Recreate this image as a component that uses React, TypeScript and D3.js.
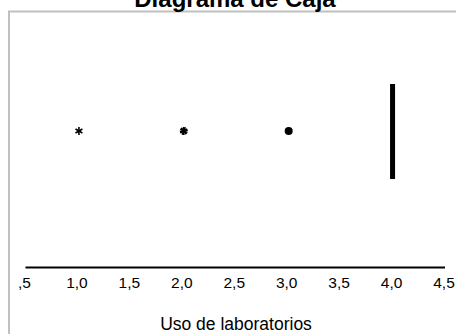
import React, { useEffect, useRef } from "react";
import * as d3 from "d3";

const W = 456;
const H = 334;

const titleText = "Diagrama de Caja";
const axisLabel = "Uso de laboratorios";
const tickValues = [0.5, 1.0, 1.5, 2.0, 2.5, 3.0, 3.5, 4.0, 4.5];
const tickLabels = [",5", "1,0", "1,5", "2,0", "2,5", "3,0", "3,5", "4,0", "4,5"];
// extreme values (asterisks), number overlapping at each
const outlierValues = [1, 2, 3];
const outlierCounts = [1, 2, 3];
// box: min, q1, median, q3, max (all collapse at 4)
const boxStats = [4, 4, 4, 4, 4];

export default function App() {
  const ref = useRef<SVGSVGElement>(null);
  useEffect(() => {
    const svg = d3.select(ref.current);
    svg.selectAll("*").remove();
    const x = d3.scaleLinear().domain([0.5, 4.5]).range([25.5, 445]);
    const yMid = 131;
    const font = "'Liberation Sans', Arial, sans-serif";

    // frame
    svg.append("rect").attr("x", 9).attr("y", 11.5).attr("width", 480).attr("height", 400)
      .attr("fill", "none").attr("stroke", "#c0c0c0").attr("stroke-width", 2);

    // title
    svg.append("text").attr("x", 235).attr("y", 7).attr("text-anchor", "middle")
      .attr("font-family", font).attr("font-weight", "bold").attr("font-size", 24)
      .attr("fill", "#000").text(titleText);

    // axis line
    svg.append("line").attr("x1", x(0.5)).attr("x2", x(4.5)).attr("y1", 267.5).attr("y2", 267.5)
      .attr("stroke", "#000").attr("stroke-width", 2);

    // tick labels
    svg.selectAll("text.tick").data(tickValues).enter().append("text")
      .attr("class", "tick")
      .attr("x", (d) => x(d) - 1)
      .attr("y", 288)
      .attr("text-anchor", "middle")
      .attr("font-family", font).attr("font-size", 15.5).attr("fill", "#000")
      .text((d, i) => tickLabels[i]);

    // axis label
    svg.append("text").attr("x", 236).attr("y", 330).attr("text-anchor", "middle")
      .attr("font-family", font).attr("font-size", 17.5).attr("fill", "#000").text(axisLabel);

    // outliers (asterisks)
    outlierValues.forEach((v, i) => {
      const cx = x(v) + 1;
      const g = svg.append("g").attr("transform", `translate(${cx},${yMid})`);
      const n = outlierCounts[i];
      const r = 4;
      if (n >= 3) {
        g.append("circle").attr("r", 4).attr("fill", "#000");
        return;
      }
      for (let k = 0; k < n; k++) {
        const off = (k * Math.PI) / 8;
        [0, Math.PI / 3, (2 * Math.PI) / 3].forEach((a) => {
          const ang = a + off + Math.PI / 2;
          g.append("line")
            .attr("x1", -r * Math.cos(ang)).attr("y1", -r * Math.sin(ang))
            .attr("x2", r * Math.cos(ang)).attr("y2", r * Math.sin(ang))
            .attr("stroke", "#000").attr("stroke-width", 1.6);
        });
      }
    });

    // box (collapsed to a line)
    const bx = x(boxStats[2]);
    svg.append("rect").attr("x", bx - 2.5).attr("y", 84).attr("width", 5).attr("height", 95)
      .attr("fill", "#000");
  }, []);
  return (
    <svg ref={ref} width={W} height={H}
      style={{ position: "absolute", left: 0, top: 0, background: "#fff", display: "block" }} />
  );
}
